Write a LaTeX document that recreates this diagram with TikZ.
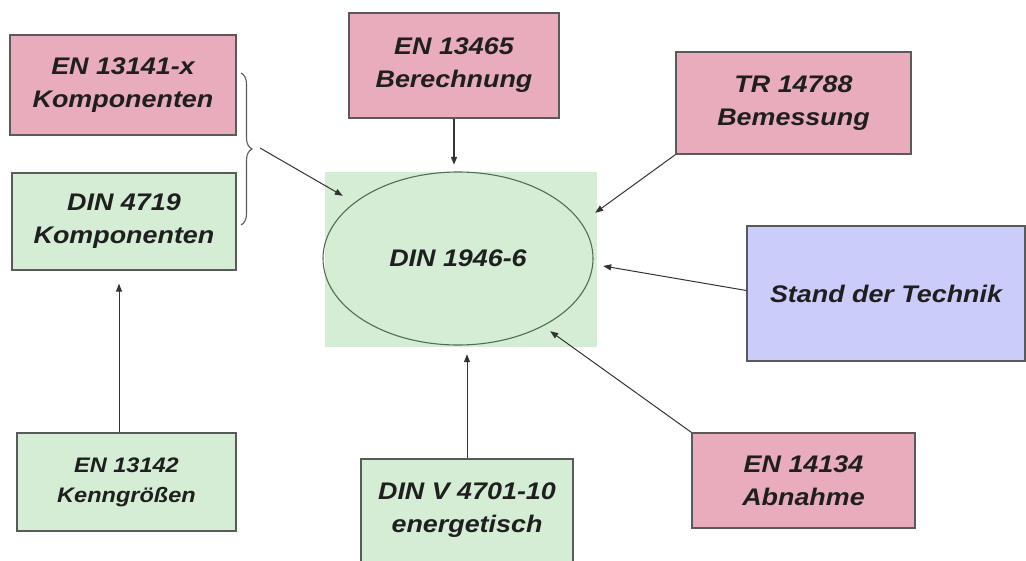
\documentclass[tikz,border=0pt]{standalone}
\usepackage{fontspec}
\setmainfont[FakeStretch=1.12]{Liberation Sans}
\usetikzlibrary{arrows.meta,shapes.geometric,decorations.pathreplacing}

\definecolor{boxpink}{RGB}{233,172,188}
\definecolor{boxgreen}{RGB}{212,237,212}
\definecolor{boxblue}{RGB}{204,204,250}
\definecolor{edgegray}{RGB}{90,90,90}
\definecolor{ringgreen}{RGB}{80,110,85}

\begin{document}
\begin{tikzpicture}[x=1pt, y=-1pt,
  box/.style={draw=edgegray, line width=1.3pt, align=center, inner sep=0pt,
    font=\fontsize{24}{33}\selectfont\bfseries\itshape, text=black!88},
  redbox/.style={box, fill=boxpink},
  greenbox/.style={box, fill=boxgreen},
  bluebox/.style={box, fill=boxblue},
  smallbox/.style={greenbox, font=\fontsize{21}{30}\selectfont\bfseries\itshape},
  arr/.style={-{Triangle[length=8pt, width=6pt]}, line width=1pt, draw=black!80},
  bracket/.style={decorate, decoration={brace, amplitude=11pt}, draw=edgegray, line width=1.1pt}
]
\useasboundingbox (0,0) rectangle (1026,560);
\fill[white] (0,0) rectangle (1026,560);

% centre: green panel with the ellipse
\node[fill=boxgreen, minimum width=272pt, minimum height=175pt] (bg) at (461,259.5) {};
\node[ellipse, draw=ringgreen, line width=1.1pt, minimum width=270pt, minimum height=173pt,
  inner sep=0pt, font=\fontsize{24}{33}\selectfont\bfseries\itshape, text=black!88] (core) at (458,258.5) {DIN 1946-6};

% surrounding standards
\node[redbox, minimum width=226pt, minimum height=100pt] (en13141) at (123,85) {EN 13141-x\\Komponenten};
\node[greenbox, minimum width=224pt, minimum height=97pt] (din4719) at (124,221.5) {DIN 4719\\Komponenten};
\node[redbox, minimum width=210pt, minimum height=105pt] (en13465) at (454,65.5) {EN 13465\\Berechnung};
\node[redbox, minimum width=235pt, minimum height=102pt] (tr14788) at (793.5,103) {TR 14788\\Bemessung};
\node[bluebox, minimum width=278pt, minimum height=135pt] (stand) at (886,293.5) {Stand der Technik};
\node[redbox, minimum width=223pt, minimum height=95pt] (en14134) at (803.5,480.5) {EN 14134\\Abnahme};
\node[smallbox, minimum width=219pt, minimum height=98pt] (en13142) at (126.5,482) {EN 13142\\Kenngrößen};
\node[greenbox, minimum width=212pt, minimum height=103pt] (dinv4701) at (467,510.5) {DIN V 4701-10\\energetisch};

% brace round the two component standards
\coordinate (bracetop) at (241,73);
\coordinate (bracebot) at (241,225);
\coordinate (bracetip) at (260,148);
\draw[bracket] (bracetop) -- (bracebot);

\draw[arr] (bracetip) -- ([xshift=18pt, yshift=-24pt]bg.north west);
\draw[arr, line width=1.6pt, shorten >=7pt] (en13465.south) -- (en13465.south |- bg.north);
\draw[arr] (tr14788.south west) -- ([xshift=-2pt, yshift=-41pt]bg.north east);
\draw[arr] ([yshift=3pt]stand.west) -- ([xshift=6pt, yshift=-6.5pt]bg.east);
\draw[arr] (en14134.north west) -- ([xshift=-47pt, yshift=16pt]bg.south east);
\draw[arr, shorten >=7pt] (dinv4701.north) -- (dinv4701.north |- bg.south);
\draw[arr] ([xshift=-7.5pt]en13142.north) -- ([xshift=-5pt, yshift=-13pt]din4719.south);

\end{tikzpicture}
\end{document}
